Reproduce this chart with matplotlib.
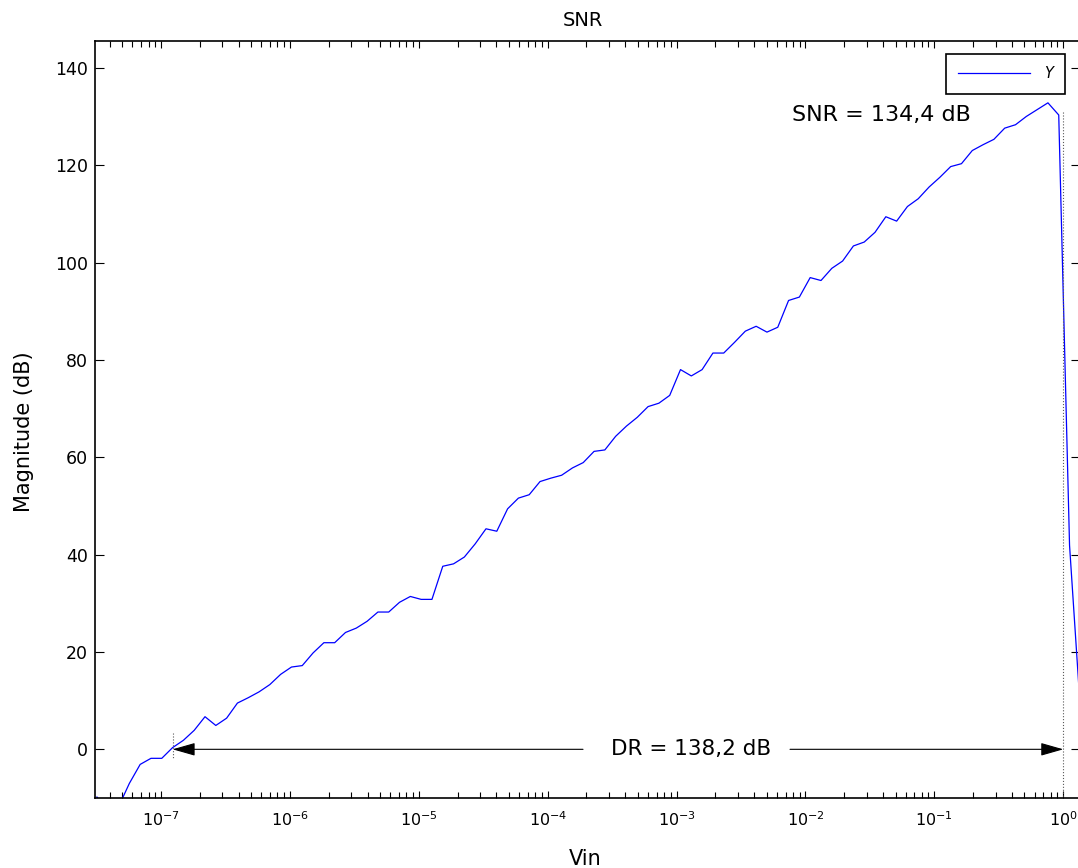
import numpy as np
import matplotlib
matplotlib.use("Agg")
import matplotlib.pyplot as plt
from matplotlib.ticker import LogLocator, FixedLocator, NullFormatter, LogFormatterSciNotation
from matplotlib.font_manager import FontProperties

plt.rcParams['font.family'] = ['DejaVu Sans']
plt.rcParams['mathtext.default'] = 'regular'
plt.rcParams['axes.unicode_minus'] = False

# ---- data -------------------------------------------------------------
vin = np.logspace(-8, 0.3, 100)[6:98]          # input amplitude grid
snr_db = [
    -9.8, -13.0, -11.8, -7.0, -3.1, -1.85, -1.85, 0.35, 1.85, 3.9,
    6.7, 4.9, 6.4, 9.5, 10.6, 11.8, 13.3, 15.4, 16.9, 17.2,
    19.8, 21.9, 21.9, 24.0, 24.9, 26.3, 28.2, 28.2, 30.2, 31.4,
    30.8, 30.8, 37.6, 38.1, 39.5, 42.2, 45.3, 44.8, 49.4, 51.6,
    52.3, 55.0, 55.7, 56.3, 57.8, 58.9, 61.2, 61.5, 64.3, 66.4,
    68.2, 70.4, 71.1, 72.7, 78.0, 76.7, 78.0, 81.4, 81.4, 83.6,
    85.9, 86.9, 85.7, 86.7, 92.2, 92.9, 96.9, 96.3, 98.8, 100.3,
    103.4, 104.2, 106.2, 109.4, 108.5, 111.5, 113.1, 115.5, 117.5, 119.7,
    120.3, 123.0, 124.2, 125.3, 127.6, 128.3, 130.0, 131.4, 132.8, 130.3,
    41.9, 8.2,
]
x_major_ticks = [1e-7, 1e-6, 1e-5, 1e-4, 1e-3, 1e-2, 1e-1, 1e0]
y_ticks = [0, 20, 40, 60, 80, 100, 120, 140]
series_label = "Y"
snr_label = "SNR = 134,4 dB"
dr_label = "DR = 138,2 dB"
dr_start = 10 ** -6.91
dr_end = 1.0

# ---- figure ------------------------------------------------------------
fig = plt.figure(figsize=(10.78, 8.68), dpi=100)
ax = fig.add_axes([95 / 1078, 70 / 868, 985.4 / 1078, 757 / 868])

ax.semilogx(vin, snr_db, color='#0000ff', lw=0.9, label=series_label)

ax.set_xlim(10 ** -7.512, 10 ** 0.1327)
ax.set_ylim(-10, 145.5)

ax.xaxis.set_major_locator(FixedLocator(x_major_ticks))
ax.xaxis.set_major_formatter(LogFormatterSciNotation())
ax.xaxis.set_minor_locator(LogLocator(base=10, subs=np.arange(2, 10), numticks=20))
ax.xaxis.set_minor_formatter(NullFormatter())
ax.yaxis.set_major_locator(FixedLocator(y_ticks))

ax.tick_params(axis='x', which='both', direction='in', top=True, bottom=True,
               labelsize=11.5, pad=9, width=0.8, color='black')
ax.tick_params(axis='x', which='major', length=5)
ax.tick_params(axis='x', which='minor', length=4)
ax.tick_params(axis='y', which='major', direction='in', left=True, right=True,
               labelsize=12.5, length=6.5, width=0.8, pad=5)

for sp in ax.spines.values():
    sp.set_linewidth(1.2)
    sp.set_color('black')

ax.set_title("SNR", fontsize=14, pad=11, x=0.495)
ax.set_xlabel("Vin", fontsize=15)
ax.xaxis.set_label_coords(0.497, -0.0674)
ax.set_ylabel("Magnitude (dB)", fontsize=15)
ax.yaxis.set_label_coords(-0.062, 0.4835)

# SNR annotation
ax.text(10 ** -1.41, 130.2, snr_label, fontsize=16, ha='center', va='center')

# DR annotation: two arrows with text in the middle
ax.text(10 ** -2.888, 0, dr_label, fontsize=15.5, ha='center', va='center')
arrow_kw = dict(arrowstyle='-|>,head_length=1.4,head_width=0.4', color='black',
                lw=0.8, shrinkA=0, shrinkB=0, mutation_scale=10)
ax.annotate('', xy=(dr_start, 0), xytext=(10 ** -3.726, 0), arrowprops=arrow_kw)
ax.annotate('', xy=(dr_end, 0), xytext=(10 ** -2.12, 0), arrowprops=arrow_kw)
ax.plot([dr_start, dr_start], [3.3, -1.8], color='0.35', lw=0.8, ls=':')
ax.plot([dr_end, dr_end], [131, -10], color='0.35', lw=0.8, ls=':')

leg = ax.legend(loc='upper right', bbox_to_anchor=(0.9848, 0.9828),
                borderaxespad=0, fancybox=False, framealpha=1,
                edgecolor='black', handlelength=4.9, handletextpad=1.0,
                borderpad=0.85, prop=FontProperties(size=10.5, style='italic'))
leg.get_frame().set_linewidth(1.2)

fig.savefig("out.png", dpi=100)
